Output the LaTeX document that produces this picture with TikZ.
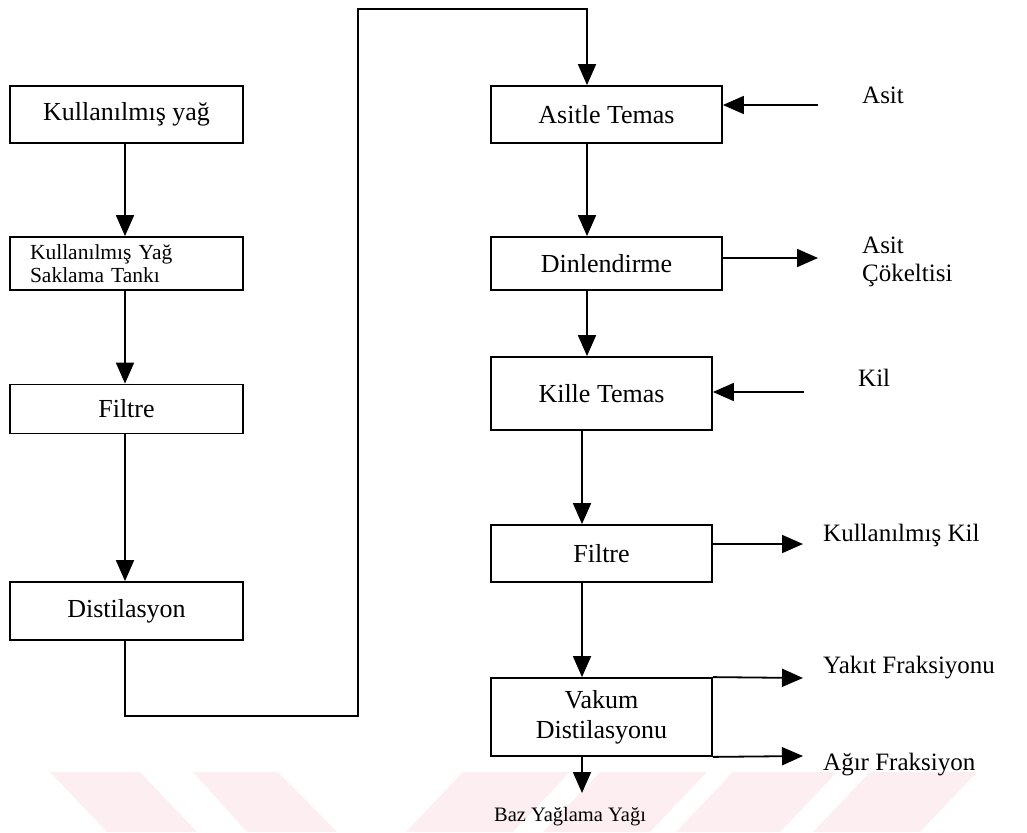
\documentclass[tikz,border=0pt]{standalone}
\usepackage{fontspec}
\setmainfont{Liberation Serif}
\usetikzlibrary{arrows.meta}
\definecolor{wm}{RGB}{253,238,241}
\begin{document}
\begin{tikzpicture}[x=1pt,y=-1pt,
  box/.style={draw, line width=1.8pt, inner sep=0pt, align=center, font=\fontsize{26}{30}\selectfont},
  lbl/.style={anchor=west, inner sep=0pt, align=left, font=\fontsize{25}{28}\selectfont},
  arr/.style={line width=1.8pt, -{Triangle[length=21pt,width=18pt]}}]
\useasboundingbox (0,0) rectangle (1027,832);
% watermark
\fill[wm] (50,772) -- (140,772) -- (197,832) -- (107,832) -- cycle;
\fill[wm] (193,772) -- (278,772) -- (337,832) -- (247,832) -- cycle;
\fill[wm] (463,772) -- (570,772) -- (513,832) -- (406,832) -- cycle;
\fill[wm] (600,772) -- (707,772) -- (650,832) -- (543,832) -- cycle;
\fill[wm] (733,772) -- (837,772) -- (780,832) -- (676,832) -- cycle;
\fill[wm] (870,772) -- (977,772) -- (920,832) -- (813,832) -- cycle;
% left column
\node[box, minimum width=233pt, minimum height=57pt] (b1) at (126.5,114.5) {Kullanılmış yağ};
\node[box, minimum width=233pt, minimum height=53pt, align=left, text width=193pt, font=\fontsize{21.5}{22.5}\selectfont] (b2) at (126.5,263.5) {Kullanılmış Yağ\\Saklama Tankı};
\node[box, minimum width=233pt, minimum height=49pt] (b3) at (126.5,409) {Filtre};
\node[box, minimum width=233pt, minimum height=58pt] (b4) at (126.5,611) {Distilasyon};
\coordinate (xl) at (125,0);
\draw[arr] (b1.south -| xl) -- (b2.north -| xl);
\draw[arr] (b2.south -| xl) -- (b3.north -| xl);
\draw[arr] (b3.south -| xl) -- (b4.north -| xl);
% right column
\node[box, minimum width=231pt, minimum height=57pt] (r1) at (606.5,114.5) {Asitle Temas};
\node[box, minimum width=231pt, minimum height=53pt] (r2) at (606.5,263.5) {Dinlendirme};
\node[box, minimum width=221pt, minimum height=73pt] (r3) at (601.5,393.5) {Kille Temas};
\node[box, minimum width=221pt, minimum height=57pt] (r4) at (601.5,553.5) {Filtre};
\node[box, minimum width=221pt, minimum height=78pt] (r5) at (601.5,717) {Vakum\\Distilasyonu};
\coordinate (xa) at (587,0);
\coordinate (xb) at (582,0);
% loop connector
\coordinate (c1) at (125,716);
\coordinate (c2) at (358,716);
\coordinate (c3) at (358,9);
\coordinate (c4) at (587,9);
\draw[arr] (b4.south -| xl) -- (c1) -- (c2) -- (c3) -- (c4) -- (r1.north -| c4);
\draw[arr] (r1.south -| xa) -- (r2.north -| xa);
\draw[arr] (r2.south -| xa) -- (r3.north -| xa);
\draw[arr] (r3.south -| xb) -- (r4.north -| xb);
\draw[arr] (r4.south -| xb) -- (r5.north -| xb);
% side labels
\node[lbl] (lasit) at (862,95) {Asit};
\node[lbl] (lcok) at (862,262) {Asit\\Çökeltisi};
\node[lbl] (lkil) at (858,378) {Kil};
\node[lbl] (lkk) at (823,535) {Kullanılmış Kil};
\node[lbl] (lyak) at (823,668) {Yakıt Fraksiyonu};
\node[lbl] (lagir) at (823,765) {Ağır Fraksiyon};
\node[inner sep=0pt, font=\fontsize{20.5}{24}\selectfont] (lbaz) at (570,817) {Baz Yağlama Yağı};
% side arrows
\coordinate (ain) at (818,105);
\draw[arr] (ain) -- (ain -| r1.east);
\coordinate (aout) at (818,258);
\draw[arr] (aout -| r2.east) -- (aout);
\coordinate (kin) at (804,392);
\draw[arr] (kin) -- (kin -| r3.east);
\coordinate (kout) at (803,544);
\draw[arr] (kout -| r4.east) -- (kout);
\coordinate (yout) at (803,678);
\draw[arr] (r5.north east) -- (yout);
\coordinate (gout) at (803,756);
\draw[arr] (r5.south east) -- (gout);
\coordinate (bout) at (582,793);
\draw[arr] (r5.south -| xb) -- (bout);
\end{tikzpicture}
\end{document}
